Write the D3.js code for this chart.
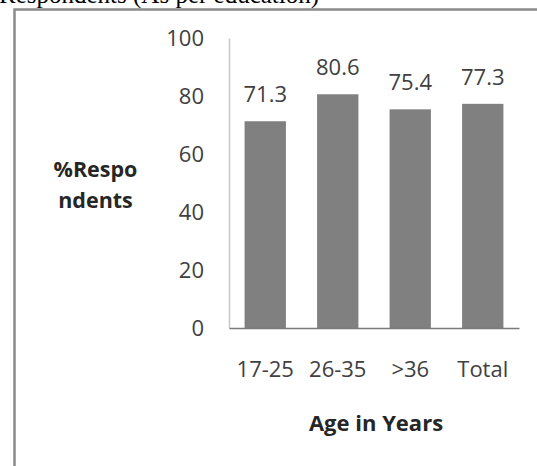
<!DOCTYPE html>
<html>
<head>
<meta charset="utf-8">
<script src="https://cdn.jsdelivr.net/npm/d3@7"></script>
<style>
  html, body { margin: 0; padding: 0; background: #fff; }
  svg { display: block; }
</style>
</head>
<body>
<svg id="chart" width="537" height="466"></svg>
<script>
// Share of respondents by age group
const categories = ["17-25", "26-35", ">36", "Total"];
const values = [71.3, 80.6, 75.4, 77.3];
const yTicks = [0, 20, 40, 60, 80, 100];

const svg = d3.select("#chart");
const W = 537, H = 466;

// Caption above the frame (only its lower part is in view)
svg.append("text")
  .attr("x", -1).attr("y", 3)
  .attr("font-family", "Liberation Serif, Times New Roman, serif")
  .attr("font-size", 25)
  .attr("fill", "#000")
  .text("Respondents (As per education)");

// Chart frame
svg.append("path")
  .attr("d", `M14.5,${H + 2} L14.5,9.5 L${W + 2},9.5`)
  .attr("fill", "none")
  .attr("stroke", "#8a8a8a")
  .attr("stroke-width", 2.5);

const x = d3.scaleBand()
  .domain(categories)
  .range([229, 519])
  .paddingInner(0.43)
  .paddingOuter(0.215);

const y = d3.scaleLinear()
  .domain([0, 100])
  .range([328, 38]);

const font = "Open Sans, Lato, DejaVu Sans, sans-serif";
const textColor = "#404040";

// Y axis
const yAxis = svg.append("g")
  .attr("transform", "translate(229,0)")
  .call(d3.axisLeft(y).tickValues(yTicks).tickSize(0).tickPadding(25));
yAxis.select(".domain").attr("stroke", "#c8c8c8").attr("stroke-width", 1.5);
yAxis.selectAll("text")
  .attr("font-family", font)
  .attr("font-size", 22)
  .attr("fill", textColor);

// Bars
svg.append("g")
  .selectAll("rect")
  .data(values)
  .join("rect")
  .attr("x", (d, i) => x(categories[i]))
  .attr("width", x.bandwidth())
  .attr("y", d => y(d))
  .attr("height", d => y(0) - y(d))
  .attr("fill", "#808080");

// Value labels
svg.append("g")
  .selectAll("text")
  .data(values)
  .join("text")
  .attr("x", (d, i) => x(categories[i]) + x.bandwidth() / 2)
  .attr("y", d => y(d) - 19)
  .attr("text-anchor", "middle")
  .attr("font-family", font)
  .attr("font-size", 22)
  .attr("fill", textColor)
  .text(d => d.toFixed(1));

// X axis
const xAxis = svg.append("g")
  .attr("transform", `translate(0,${y(0)})`)
  .call(d3.axisBottom(x).tickSize(0).tickPadding(33));
xAxis.select(".domain").attr("stroke", "#7a7a7a").attr("stroke-width", 1.5);
xAxis.selectAll("text")
  .attr("font-family", font)
  .attr("font-size", 22)
  .attr("fill", textColor);

// Axis titles
svg.append("text")
  .attr("x", 376).attr("y", 431)
  .attr("text-anchor", "middle")
  .attr("font-family", font)
  .attr("font-size", 22)
  .attr("font-weight", "bold")
  .attr("fill", "#262626")
  .text("Age in Years");

const yTitle = svg.append("text")
  .attr("text-anchor", "middle")
  .attr("font-family", font)
  .attr("font-size", 21.5)
  .attr("font-weight", "bold")
  .attr("fill", "#262626");
yTitle.append("tspan").attr("x", 95.5).attr("y", 177).text("%Respo");
yTitle.append("tspan").attr("x", 95.5).attr("y", 208).text("ndents");
</script>
</body>
</html>
